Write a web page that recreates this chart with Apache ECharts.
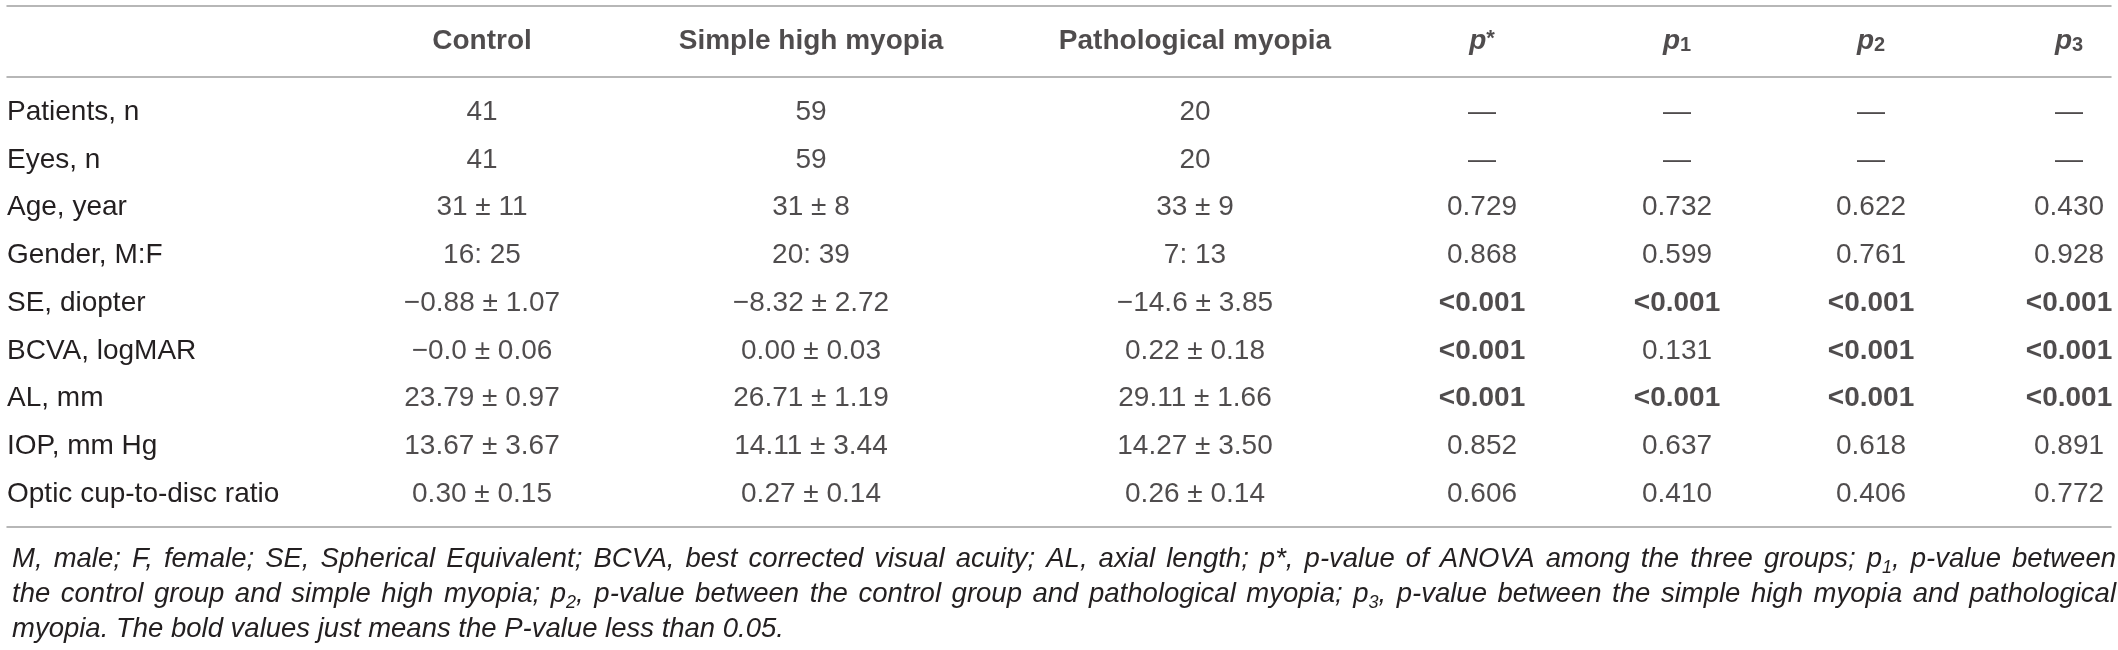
<!DOCTYPE html>
<html>
<head>
<meta charset="utf-8">
<script src="https://cdn.jsdelivr.net/npm/echarts@6/dist/echarts.min.js"></script>
<style>
  html, body { margin: 0; padding: 0; background: #fff; }
  #table { width: 2118px; height: 650px; }
</style>
</head>
<body>
<div id="table"></div>
<script>
// table content
const rowLabels = ["Patients, n", "Eyes, n", "Age, year", "Gender, M:F", "SE, diopter",
  "BCVA, logMAR", "AL, mm", "IOP, mm Hg", "Optic cup-to-disc ratio"];
const columnNames = ["Control", "Simple high myopia", "Pathological myopia", "p*", "p1", "p2", "p3"];

const control = ["41", "41", "31 ± 11", "16: 25", "−0.88 ± 1.07", "−0.0 ± 0.06", "23.79 ± 0.97", "13.67 ± 3.67", "0.30 ± 0.15"];
const simpleHigh = ["59", "59", "31 ± 8", "20: 39", "−8.32 ± 2.72", "0.00 ± 0.03", "26.71 ± 1.19", "14.11 ± 3.44", "0.27 ± 0.14"];
const pathological = ["20", "20", "33 ± 9", "7: 13", "−14.6 ± 3.85", "0.22 ± 0.18", "29.11 ± 1.66", "14.27 ± 3.50", "0.26 ± 0.14"];
const pStar = ["—", "—", "0.729", "0.868", "<0.001", "<0.001", "<0.001", "0.852", "0.606"];
const p1 = ["—", "—", "0.732", "0.599", "<0.001", "0.131", "<0.001", "0.637", "0.410"];
const p2 = ["—", "—", "0.622", "0.761", "<0.001", "<0.001", "<0.001", "0.618", "0.406"];
const p3 = ["—", "—", "0.430", "0.928", "<0.001", "<0.001", "<0.001", "0.891", "0.772"];

const footnote = [
  "M, male; F, female; SE, Spherical Equivalent; BCVA, best corrected visual acuity; AL, axial length; p*, p-value of ANOVA among the three groups; p{sub|1}, p-value between",
  "the control group and simple high myopia; p{sub|2}, p-value between the control group and pathological myopia; p{sub|3}, p-value between the simple high myopia and pathological",
  "myopia. The bold values just means the P-value less than 0.05."
];

const columns = [control, simpleHigh, pathological, pStar, p1, p2, p3];

// layout: column centres along the x axis
const colX = [482, 811, 1195, 1482, 1677, 1871, 2069];

const TEXT = "#231f20";
const RULE = "#a0a0a0";
const FONT = '"Liberation Sans", Arial, Helvetica, sans-serif';
const NOTE_SIZE = 27.5;
const SUB_SIZE = 18;
const NOTE_WIDTH = 2104;

function isSignificant(v) {
  if (v.startsWith("<")) return true;
  const n = parseFloat(v);
  return !isNaN(n) && n < 0.05;
}

function headerText(name) {
  const m = name.match(/^p(.)$/);
  if (!m) return name;
  return m[1] === "*" ? "{pi|p}{sup|*}" : "{pi|p}{sub|" + m[1] + "}";
}

// justify footnote lines by widening the spaces (last line stays ragged)
const ctx = document.createElement("canvas").getContext("2d");
function textWidth(s, size) {
  ctx.font = "italic " + size + "px " + FONT;
  return ctx.measureText(s).width;
}
const noteRich = {
  sub: { fontSize: SUB_SIZE, fontStyle: "italic", fontFamily: FONT, color: TEXT, lineHeight: 20, verticalAlign: "bottom" },
};
const noteLines = footnote.map((line, k) => {
  if (k === footnote.length - 1) return line;
  const parts = line.split(/(\{sub\|.\})/);
  let natural = 0;
  let spaces = 0;
  parts.forEach((part) => {
    const m = part.match(/^\{sub\|(.)\}$/);
    if (m) natural += textWidth(m[1], SUB_SIZE);
    else {
      natural += textWidth(part, NOTE_SIZE);
      spaces += (part.match(/ /g) || []).length;
    }
  });
  const spaceW = textWidth(" ", NOTE_SIZE) + (NOTE_WIDTH - natural) / spaces;
  noteRich["sp" + k] = { width: spaceW, fontSize: NOTE_SIZE, fontStyle: "italic", fontFamily: FONT, color: TEXT };
  return parts.map((part) => (part.startsWith("{sub|") ? part : part.split(" ").join("{sp" + k + "| }"))).join("");
});

function ruleAxis(gridIndex, position, offset) {
  return {
    gridIndex: gridIndex,
    type: "value",
    min: 7,
    max: 2111,
    position: position,
    offset: offset || 0,
    axisLine: { show: true, onZero: false, lineStyle: { color: RULE, width: 1.5 } },
    axisTick: { show: false },
    axisLabel: { show: false },
    splitLine: { show: false },
  };
}

const chart = echarts.init(document.getElementById("table"));

const bodySeries = columns.map((col, j) => ({
  type: "scatter",
  name: columnNames[j],
  xAxisIndex: 2,
  yAxisIndex: 1,
  symbolSize: 0,
  silent: true,
  data: col.map((v, i) => ({ value: [colX[j], rowLabels[i]], text: v })),
  label: {
    show: true,
    position: "inside",
    color: TEXT,
    fontSize: 28,
    fontFamily: FONT,
    formatter: (p) => (j >= 3 && isSignificant(p.data.text) ? "{b|" + p.data.text + "}" : p.data.text),
    rich: {
      b: { fontWeight: "bold", fontSize: 28, fontFamily: FONT, color: TEXT },
    },
  },
}));

const option = {
  animation: false,
  title: {
    left: 7,
    top: 537,
    text: noteLines.join("\n"),
    textStyle: {
      color: TEXT,
      fontFamily: FONT,
      fontSize: NOTE_SIZE,
      fontStyle: "italic",
      fontWeight: "normal",
      lineHeight: 35,
      rich: noteRich,
    },
  },
  grid: [
    { left: 7, right: 7, top: 6, height: 71 },
    { left: 7, right: 7, top: 88.5, height: 429.3 },
  ],
  xAxis: [
    ruleAxis(0, "top"),
    ruleAxis(0, "bottom"),
    ruleAxis(1, "bottom", 9),
  ],
  yAxis: [
    { gridIndex: 0, type: "category", data: ["header"], show: false },
    {
      gridIndex: 1,
      type: "category",
      data: rowLabels,
      inverse: true,
      axisLine: { show: false },
      axisTick: { show: false },
      axisLabel: { inside: true, margin: 0, color: TEXT, fontSize: 28, fontFamily: FONT },
    },
  ],
  series: [
    {
      type: "scatter",
      xAxisIndex: 0,
      yAxisIndex: 0,
      symbolSize: 0,
      silent: true,
      data: columnNames.map((n, j) => ({ value: [colX[j], "header"], name: n })),
      label: {
        show: true,
        position: "inside",
        color: TEXT,
        fontSize: 28,
        fontWeight: "bold",
        fontFamily: FONT,
        formatter: (p) => headerText(p.name),
        rich: {
          pi: { fontSize: 28, fontWeight: "bold", fontStyle: "italic", fontFamily: FONT, color: TEXT, lineHeight: 28 },
          sub: { fontSize: 20, fontWeight: "bold", fontFamily: FONT, color: TEXT, lineHeight: 18, verticalAlign: "bottom" },
          sup: { fontSize: 22, fontWeight: "bold", fontFamily: FONT, color: TEXT, lineHeight: 22, verticalAlign: "top" },
        },
      },
    },
  ].concat(bodySeries),
};

chart.setOption(option);
window.addEventListener("resize", () => {
  chart.resize();
});
</script>
</body>
</html>
